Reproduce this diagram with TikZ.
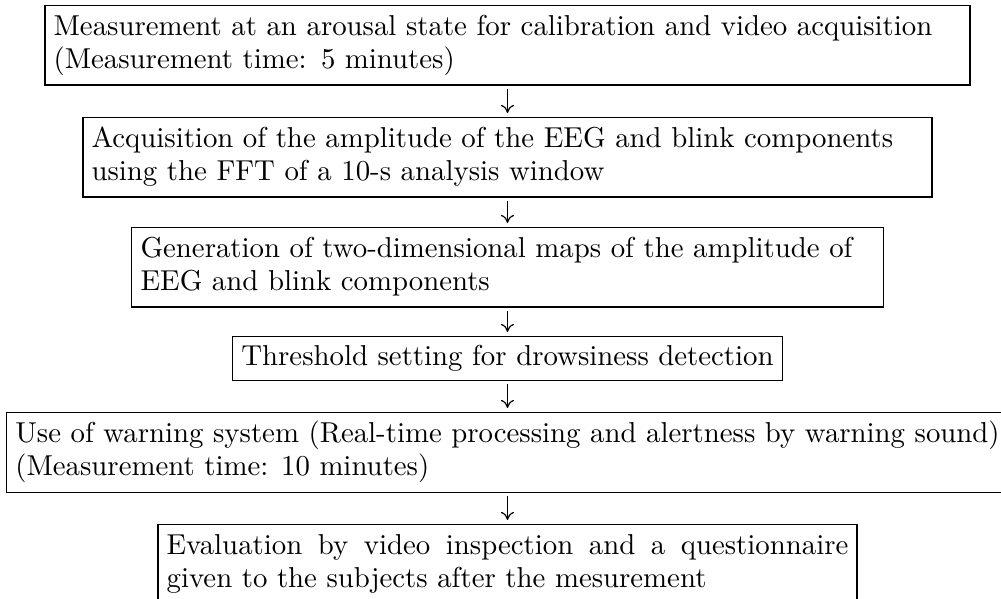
\documentclass[tikz,border=0pt]{standalone}
\usetikzlibrary{arrows.meta}
% struts for the first and last line of a framed paragraph
\newcommand\topstrut{\rule{0pt}{7.4pt}}
\newcommand\botstrut{\rule[-2.9pt]{0pt}{2.9pt}}
\begin{document}
\begin{tikzpicture}[
    x=0.3472pt, y=-0.3472pt,
    stepbox/.style={draw, line width=0.4pt, inner xsep=3pt, inner ysep=3pt,
                    anchor=north, font=\fontsize{10}{11.3}\selectfont},
    arr/.style={line width=0.4pt, -{To[length=2.8pt,width=4.6pt]},
                shorten <=1.2pt, shorten >=1.4pt}
  ]
  \clip (0,0) rectangle (1001,599);
  \fill[white] (0,0) rectangle (1001,599);

  % process steps, top to bottom
  \node[stepbox, text width=315.2pt, align=left] (calib) at (507.5,5)
    {\topstrut Measurement at an arousal state for calibration and video acquisition\\
     (Measurement time: 5 minutes)\botstrut};
  \node[stepbox, text width=288.8pt, align=left] (fft) at (507.5,117)
    {\topstrut Acquisition of the amplitude of the EEG and blink components\\
     using the FFT of a 10-s analysis window\botstrut};
  \node[stepbox, text width=254.8pt, align=left] (maps) at (507.5,227)
    {\topstrut Generation of two-dimensional maps of the amplitude of\\
     EEG and blink components\botstrut};
  \node[stepbox] (thresh) at (507.5,336)
    {Threshold setting for drowsiness detection};
  \node[stepbox, align=left] (warn) at (507.5,412)
    {\topstrut Use of warning system (Real-time processing and alertness by warning sound)\\
     (Measurement time: 10 minutes)\botstrut};
  \node[stepbox, text width=236.7pt, align=justify] (eval) at (507.5,524)
    {\topstrut Evaluation by video inspection and a questionnaire\linebreak
     given to the subjects after the mesurement\botstrut};

  % flow between steps
  \draw[arr] (calib.south) -- (fft.north);
  \draw[arr] (fft.south) -- (maps.north);
  \draw[arr] (maps.south) -- (thresh.north);
  \draw[arr] (thresh.south) -- (warn.north);
  \draw[arr] (warn.south) -- (eval.north);
\end{tikzpicture}
\end{document}
